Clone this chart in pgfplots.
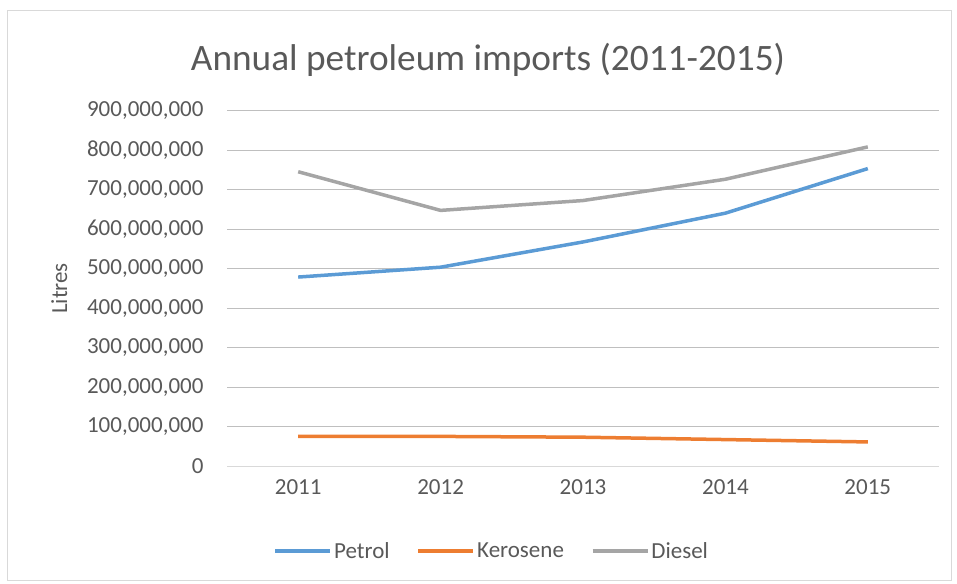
\documentclass[border=0pt]{standalone}
\usepackage{pgfplots}
\pgfplotsset{compat=1.18}
\usepackage{fontspec}
\setmainfont{Carlito}
\definecolor{txt}{HTML}{595959}
\definecolor{grid}{HTML}{D9D9D9}
\definecolor{cpet}{HTML}{5B9BD5}
\definecolor{cker}{HTML}{ED7D31}
\definecolor{cdie}{HTML}{A5A5A5}
\begin{document}
\begin{tikzpicture}[x=1pt,y=1pt]
\path[use as bounding box] (0,0) rectangle (957,583);
\draw[grid, line width=1pt] (7,3) rectangle (951,572);
\node[txt, font=\fontsize{37.3}{42}\selectfont] at (488,523) {Annual petroleum imports (2011-2015)};
\begin{axis}[
  at={(227pt,117pt)}, anchor=south west,
  scale only axis, width=712pt, height=355pt,
  xmin=2010.5, xmax=2015.5, ymin=0, ymax=900000000,
  xtick={2011,2012,2013,2014,2015},
  xticklabels={2011,2012,2013,2014,2015},
  ytick={0,100000000,200000000,300000000,400000000,500000000,600000000,700000000,800000000,900000000},
  scaled y ticks=false,
  yticklabel style={/pgf/number format/fixed, /pgf/number format/precision=0, /pgf/number format/1000 sep={,}, /pgf/number format/assume math mode=true, xshift=-20pt},
  ticklabel style={txt, font=\fontsize{23}{27}\selectfont},
  xticklabel style={yshift=-10pt},
  major tick length=0pt,
  xmajorgrids=false, ymajorgrids=true, grid style={grid, line width=1pt},
  axis x line*=bottom, axis y line*=left,
  x axis line style={grid, line width=1pt, -},
  y axis line style={draw=none},
  ylabel={Litres}, ylabel style={txt, font=\fontsize{23}{27}\selectfont},
  ylabel shift=13pt,
  legend columns=3,
  legend style={at={(0.372,-0.239)}, anchor=center, draw=none, fill=none,
    font=\fontsize{23}{27}\selectfont, text=txt,
    /tikz/every even column/.append style={column sep=25pt}},
  legend image code/.code={\draw[#1, line width=3.5pt] (0pt,0pt) -- (55pt,0pt);},
]
\addplot[cpet, line width=3.5pt] coordinates {(2011,479000000) (2012,504000000) (2013,568000000) (2014,641000000) (2015,754000000)};
\addplot[cker, line width=3.5pt] coordinates {(2011,75000000) (2012,75000000) (2013,73000000) (2014,67000000) (2015,61000000)};
\addplot[cdie, line width=3.5pt] coordinates {(2011,746000000) (2012,648000000) (2013,673000000) (2014,727000000) (2015,809000000)};
\legend{Petrol, Kerosene, Diesel}
\end{axis}
\end{tikzpicture}
\end{document}
